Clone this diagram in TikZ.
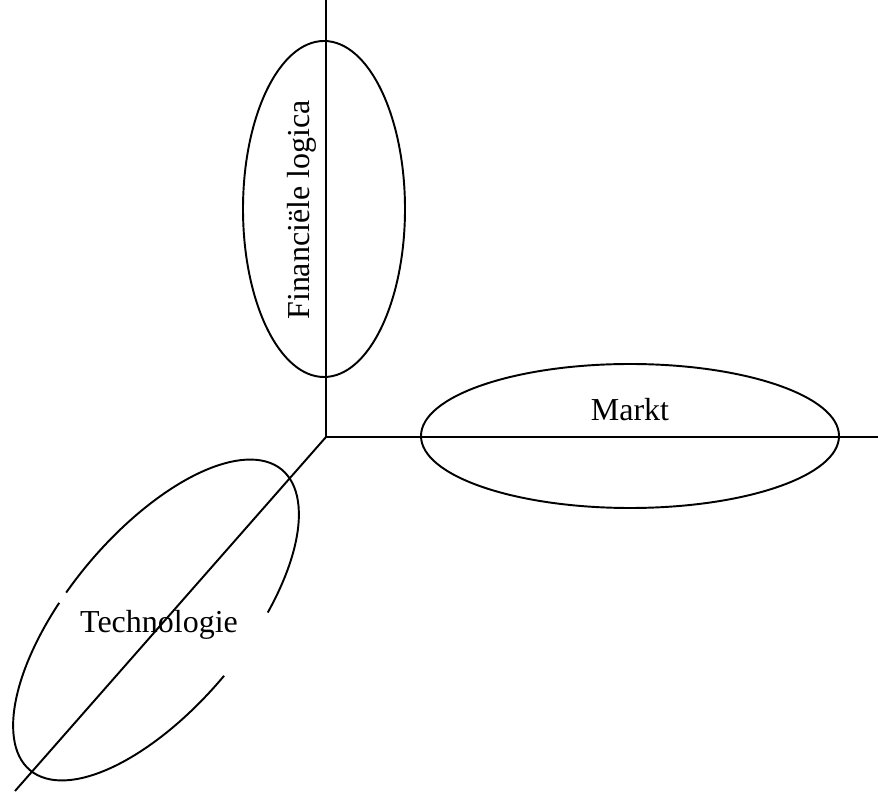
\documentclass[tikz,border=0pt]{standalone}
\usepackage{fontspec}
\setmainfont{Liberation Serif}
\usepackage{tikz}
\usetikzlibrary{calc}
\tikzset{
	axisline/.style={line width=1.1pt, color=black},
	ringline/.style={line width=1.1pt, color=black},
	ringlabel/.style={anchor=base, inner sep=0pt, font=\fontsize{18.2}{21.8}\selectfont}
}

\begin{document}
\begin{tikzpicture}
			%%%%% START %%%%%
			
			\useasboundingbox (0, 0) rectangle (17.56, 15.82);
			
			\coordinate (origin) at (6.52, 7.08);
			\coordinate (top) at (6.52, 15.82);
			\coordinate (right) at (17.56, 7.08);
			\coordinate (low) at (0.30, 0);
			
			\draw[axisline] (origin) -- (top);
			\draw[axisline] (origin) -- (right);
			\draw[axisline] (origin) -- (low);
			
			\draw[ringline] (6.48, 11.64) ellipse (1.62 and 3.36);
			\node[ringlabel, rotate=90] (financieel) at (6.19, 11.62) {Financiële logica};
			
			\draw[ringline] (12.60, 7.10) ellipse (4.18 and 1.44);
			\node[ringlabel] (markt) at (12.60, 7.40) {Markt};
			
			\draw[ringline, shift={(3.12, 3.42)}, rotate=50] (104.5:3.92 and 1.76) arc[start angle=104.5, end angle=270.3, x radius=3.92, y radius=1.76];
			\draw[ringline, shift={(3.12, 3.42)}, rotate=50] (293.3:3.92 and 1.76) arc[start angle=293.3, end angle=460.8, x radius=3.92, y radius=1.76];
			\node[ringlabel] (technologie) at (3.18, 3.166) {Technologie};
			
			%%%%% END %%%%%
		\end{tikzpicture}
\end{document}
